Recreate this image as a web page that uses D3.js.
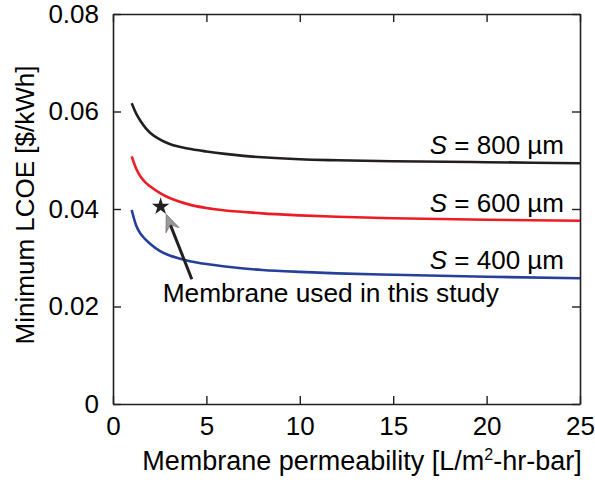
<!DOCTYPE html>
<html>
<head>
<meta charset="utf-8">
<script src="https://cdn.jsdelivr.net/npm/d3@7"></script>
<style>
  body { margin: 0; background: #fff; }
  text { font-family: Arial, "Liberation Sans", sans-serif; fill: #000; }
</style>
</head>
<body>
<div id="chart"></div>
<script>
(function() {

  // membrane permeability [L/m2-hr-bar]
  var perm = [1, 1.25, 1.5, 1.75, 2, 2.5, 3, 3.5, 4, 5, 6, 7, 8, 10, 12, 15, 20, 25];

  // minimum LCOE [$/kWh] per spacer thickness
  var lcoe800 = [0.0617, 0.0595, 0.0579, 0.0566, 0.0556, 0.0543, 0.0534, 0.0528, 0.0524, 0.0518,
                 0.0513, 0.0509, 0.0506, 0.0502, 0.0500, 0.0498, 0.0496, 0.0494];
  var lcoe600 = [0.0508, 0.0482, 0.0465, 0.0454, 0.0446, 0.0433, 0.0423, 0.0416, 0.0410, 0.0402,
                 0.0397, 0.0394, 0.0391, 0.0387, 0.0384, 0.0381, 0.0378, 0.0376];
  var lcoe400 = [0.0398, 0.0365, 0.0348, 0.0337, 0.0328, 0.0314, 0.0305, 0.0299, 0.0294, 0.0287,
                 0.0282, 0.0278, 0.0275, 0.0271, 0.0268, 0.0265, 0.0261, 0.0258];

  var seriesNames = ["800", "600", "400"];
  var seriesColors = ["#231f20", "#ed1c24", "#26409a"];
  var seriesValues = [lcoe800, lcoe600, lcoe400];

  var xTicks = [0, 5, 10, 15, 20, 25];
  var yTicks = [0, 0.02, 0.04, 0.06, 0.08];

  // the marked membrane and the arrow pointing at it
  var studyPoint = { x: 2.55, y: 0.0405 };
  var arrowTip = { x: 2.85, y: 0.0389 };
  var arrowTail = { x: 4.22, y: 0.0256 };

  var width = 595, height = 484,
      margin = { top: 14, right: 15, bottom: 80, left: 113 },
      innerW = width - margin.left - margin.right,
      innerH = height - margin.top - margin.bottom,
      fontSize = 26;

  var svg = d3.select("#chart").append("svg")
      .attr("width", width)
      .attr("height", height);

  var g = svg.append("g")
      .attr("transform", "translate(" + margin.left + "," + margin.top + ")");

  var x = d3.scaleLinear().domain([0, 25]).range([0, innerW]);
  var y = d3.scaleLinear().domain([0, 0.08]).range([innerH, 0]);

  var fmtY = function(d) { return d === 0 ? "0" : d3.format(".2f")(d); };

  // axes, ticks pointing inward, mirrored on top/right
  var axisB = d3.axisBottom(x).tickValues(xTicks).tickSizeInner(-8).tickSizeOuter(0).tickPadding(13);
  var axisL = d3.axisLeft(y).tickValues(yTicks).tickSizeInner(-8).tickSizeOuter(0).tickPadding(14).tickFormat(fmtY);
  var axisT = d3.axisTop(x).tickValues(xTicks).tickSizeInner(-8).tickSizeOuter(0).tickFormat("");
  var axisR = d3.axisRight(y).tickValues(yTicks).tickSizeInner(-8).tickSizeOuter(0).tickFormat("");

  var styleAxis = function(sel) {
    sel.select(".domain").attr("stroke", "#231f20").attr("stroke-width", 1.6);
    sel.selectAll(".tick line").attr("stroke", "#231f20").attr("stroke-width", 1.4);
    sel.selectAll(".tick text")
      .attr("font-size", fontSize)
      .attr("font-family", "Arial, 'Liberation Sans', sans-serif")
      .attr("fill", "#000");
  };

  g.append("g").attr("transform", "translate(0," + innerH + ")").call(axisB).call(styleAxis);
  g.append("g").call(axisL).call(styleAxis);
  g.append("g").call(axisT).call(styleAxis);
  g.append("g").attr("transform", "translate(" + innerW + ",0)").call(axisR).call(styleAxis);

  // curves
  var line = d3.line()
      .x(function(d) { return x(d[0]); })
      .y(function(d) { return y(d[1]); })
      .curve(d3.curveMonotoneX);

  seriesValues.forEach(function(vals, i) {
    var pts = perm.map(function(p, j) { return [p, vals[j]]; });
    g.append("path")
      .datum(pts)
      .attr("fill", "none")
      .attr("stroke", seriesColors[i])
      .attr("stroke-width", 2.6)
      .attr("d", line);

    var lab = g.append("text")
      .attr("x", x(25) - 16)
      .attr("y", y(vals[vals.length - 1]) - 9)
      .attr("text-anchor", "end")
      .attr("font-size", fontSize);
    lab.append("tspan").attr("font-style", "italic").text("S");
    lab.append("tspan").text(" = " + seriesNames[i] + " \u00b5m");
  });

  // star marking the membrane used
  g.append("path")
    .attr("d", d3.symbol().type(d3.symbolStar).size(95)())
    .attr("transform", "translate(" + x(studyPoint.x) + "," + y(studyPoint.y) + ")")
    .attr("fill", "#231f20");

  // arrow: black shaft, grey head
  var tx = x(arrowTip.x), ty = y(arrowTip.y),
      sx = x(arrowTail.x), sy = y(arrowTail.y);
  var dx = sx - tx, dy = sy - ty, len = Math.sqrt(dx * dx + dy * dy);
  var ux = dx / len, uy = dy / len, nx = -uy, ny = ux;
  var headL = 17, headW = 7, notch = 11;

  g.append("line")
    .attr("x1", tx + ux * notch).attr("y1", ty + uy * notch)
    .attr("x2", sx).attr("y2", sy)
    .attr("stroke", "#231f20")
    .attr("stroke-width", 3);

  var head = [
    [tx, ty],
    [tx + ux * headL + nx * headW, ty + uy * headL + ny * headW],
    [tx + ux * notch, ty + uy * notch],
    [tx + ux * headL - nx * headW, ty + uy * headL - ny * headW]
  ];
  g.append("path")
    .attr("d", "M" + head.map(function(p) { return p.join(","); }).join("L") + "Z")
    .attr("fill", "#9a9a9a")
    .attr("stroke", "#6d6e71")
    .attr("stroke-width", 0.8);

  g.append("text")
    .attr("x", x(2.66))
    .attr("y", y(0.0025) - 90)
    .attr("font-size", 26.3)
    .text("Membrane used in this study");

  // axis titles
  var xt = svg.append("text")
    .attr("x", 362)
    .attr("y", height - 14)
    .attr("text-anchor", "middle")
    .attr("font-size", 27);
  xt.append("tspan").text("Membrane permeability [L/m");
  xt.append("tspan").attr("font-size", 16).attr("dy", -10).text("2");
  xt.append("tspan").attr("dy", 10).text("-hr-bar]");

  svg.append("text")
    .attr("transform", "translate(34,205) rotate(-90)")
    .attr("text-anchor", "middle")
    .attr("font-size", 26)
    .text("Minimum LCOE [$/kWh]");

}());
</script>
</body>
</html>
